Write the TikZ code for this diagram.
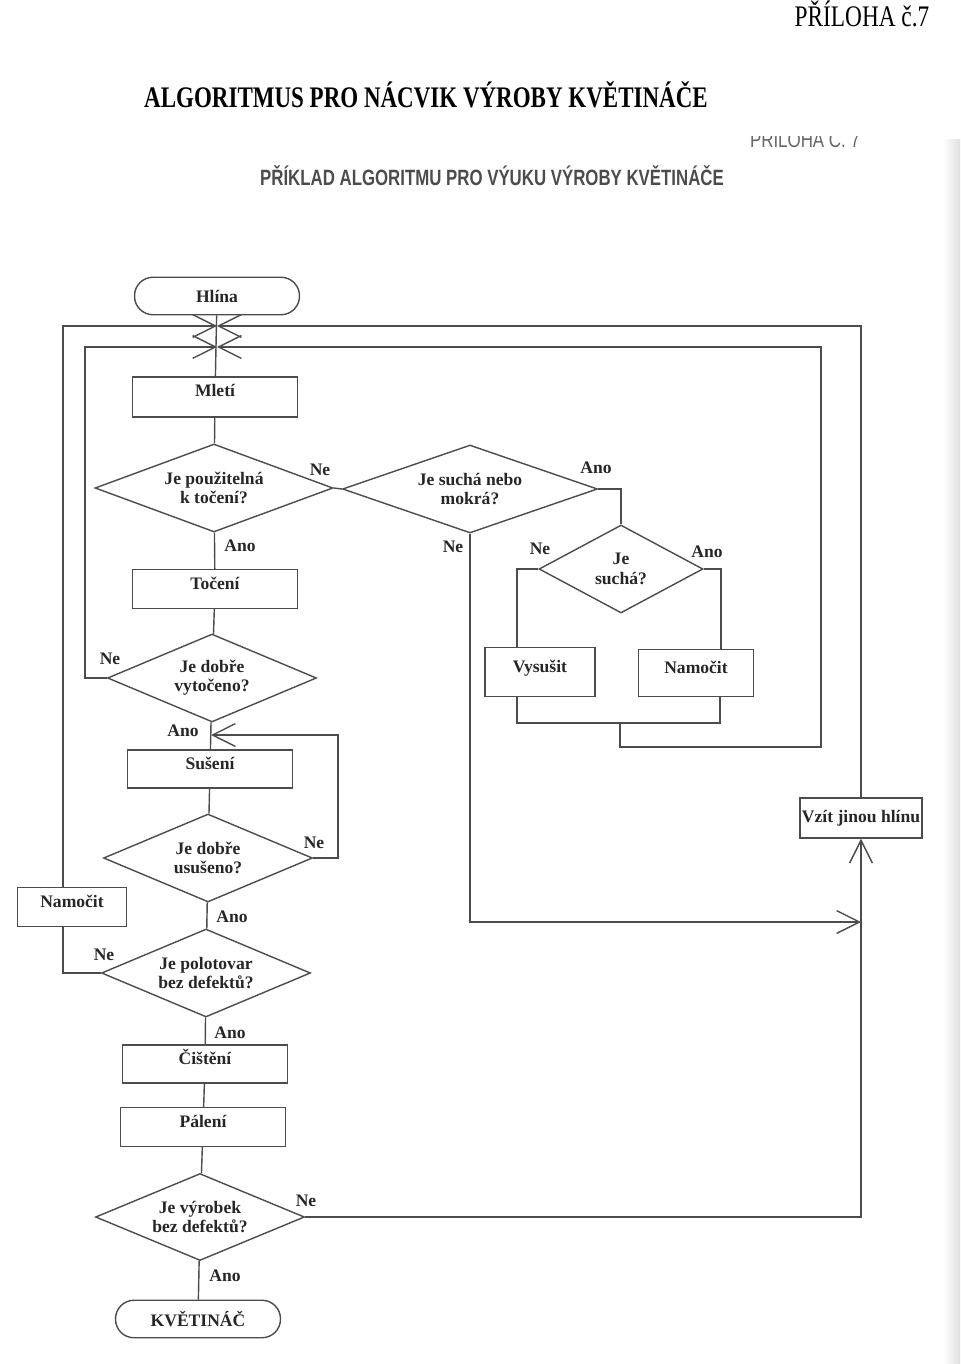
\documentclass[tikz,border=0pt]{standalone}
\usepackage{fontspec}
\setmainfont{Liberation Serif}
\newfontfamily\scanfont{Liberation Sans}
\usepackage{tikz}
\usetikzlibrary{arrows.meta,calc,positioning,shapes.geometric}
\tikzset{
    myline/.style={line width=0.8pt,draw=black!70},
    myarrow/.style={-{Straight Barb[length=13pt,width=13pt]}},
    mybox/.style={rectangle,draw=black!70,line width=0.8pt,inner sep=1pt,
        minimum width=3.3cm,minimum height=0.78cm,text=black!85,
        font=\fontsize{10}{11}\selectfont\bfseries},
    myproc/.style={mybox,text height=0.25cm,text depth=0.25cm},
    myterm/.style={mybox,rounded corners=0.37cm,minimum height=0.75cm},
    mydec/.style={diamond,aspect=2.6,draw=black!70,line width=0.8pt,inner sep=0pt,
        minimum width=4.18cm,minimum height=1.76cm,align=center,text=black!85,
        font=\fontsize{10}{11}\selectfont\bfseries},
    mylabel/.style={inner sep=0pt,text=black!85,font=\fontsize{10}{11}\selectfont\bfseries}
}

\begin{document}
\begin{tikzpicture}[x=0.02cm,y=-0.02cm]
  \useasboundingbox (0,0) rectangle (960,1364);
  % scanner edge
  \fill[left color=white,right color=black!12] (943,140) rectangle (960,1364);

  % headings
  \node[anchor=base,font=\fontsize{17}{20}\selectfont] (priloha) at (862,27) {\scalebox{0.78}[1]{PŘÍLOHA č.7}};
  \node[anchor=base,font=\fontsize{17}{20}\selectfont\bfseries] (title) at (426,108) {\scalebox{0.77}[1]{ALGORITMUS PRO NÁCVIK VÝROBY KVĚTINÁČE}};
  \begin{scope}
    \clip (700,137) rectangle (900,160);
    \node[anchor=base,text=black!60,font=\fontsize{12.5}{14}\scanfont] (cut) at (805,148) {\scalebox{0.77}[1]{PŘÍLOHA Č. 7}};
  \end{scope}
  \node[anchor=base,text=black!70,font=\fontsize{12.6}{14}\scanfont\bfseries] (sub) at (492,186) {\scalebox{0.76}[1]{PŘÍKLAD ALGORITMU PRO VÝUKU VÝROBY KVĚTINÁČE}};

  % main column
  \node[myterm] (hlina) at (217,296) {Hlína};
  \node[myproc,minimum height=0.8cm] (mleti) at (215,397) {Mletí};
  \node[mydec,minimum width=4.76cm] (d1) at (214,488) {Je použitelná\\k točení?};
  \node[myproc] (toceni) at (215,589) {Točení};
  \node[mydec] (d4) at (212,678) {Je dobře\\vytočeno?};
  \node[myproc,minimum height=0.76cm] (suseni) at (210,769) {Sušení};
  \node[mydec] (d5) at (208,858) {Je dobře\\usušeno?};
  \node[mydec] (d6) at (206,973) {Je polotovar\\bez defektů?};
  \node[myproc,minimum height=0.76cm] (cisteni) at (205,1064) {Čištění};
  \node[myproc] (paleni) at (203,1127) {Pálení};
  \node[mydec,minimum height=1.74cm] (d7) at (200,1217) {Je výrobek\\bez defektů?};
  \node[myterm] (kvetinac) at (198,1319) {KVĚTINÁČ};

  % side branches
  \node[mydec,minimum width=5.1cm] (d2) at (470,489) {Je suchá nebo\\mokrá?};
  \node[mydec,minimum width=3.28cm] (d3) at (621,569) {Je\\suchá?};
  \node[myproc,minimum width=2.2cm,minimum height=0.98cm] (vysusit) at (540,672) {Vysušit};
  \node[myproc,minimum width=2.3cm,minimum height=0.94cm] (namocit) at (696,673) {Namočit};
  \node[myproc,minimum width=2.18cm] (namocit2) at (72,907) {Namočit};
  \node[mybox,minimum width=2.44cm,minimum height=0.8cm] (vzit) at (861,818) {Vzít jinou hlínu};

  \coordinate (xo) at (217,326);
  \coordinate (xi) at (217,347);
  \coordinate (il) at (85,347);
  \coordinate (jn) at (861,922);
  \coordinate (sj) at (211,735);
  \coordinate (rl) at (338,735);
  \coordinate (m1) at (620,723);
  \coordinate (m2) at (821,747);

  \foreach \a/\b in {hlina/mleti,mleti/d1,d1/toceni,toceni/d4,d4/suseni,suseni/d5,
                     d5/d6,d6/cisteni,cisteni/paleni,paleni/d7,d7/kvetinac}{
    \draw[myline] (\a) -- (\b);
  }
  \draw[myline] (d1.east) -- (d2.west);
  \draw[myline] (d2.east) -| (d3.north);
  \draw[myline] (d3.west) -| ($(vysusit.north)+(-23,0)$);
  \draw[myline] (d3.east) -| ($(namocit.north)+(25,0)$);
  \draw[myline] ($(vysusit.south)+(-23,0)$) |- (m1) -| ($(namocit.south)+(24,0)$);
  \draw[myline,myarrow] (m1) |- (m2) |- (xi);
  \draw[myline,myarrow] (d4.west) -| (il) -- (xi);
  \draw[myline,myarrow] (d5.east) -| (rl) -- (sj);
  \draw[myline] (d6.west) -| ($(namocit2.south)+(-9,0)$);
  \draw[myline,myarrow] ($(namocit2.north)+(-9,0)$) |- (xo);
  \draw[myline,myarrow] (d2.south) |- (jn);
  \draw[myline,myarrow] (d7.east) -| (vzit.south);
  \draw[myline,myarrow] (vzit.north) |- (xo);

  \foreach \x/\y/\t [count=\i] in {320/470/Ne,240/546/Ano,596/468/Ano,453/547/Ne,
      540/549/Ne,707/552/Ano,110/659/Ne,183/731/Ano,314/843/Ne,232/917/Ano,
      104/955/Ne,230/1033/Ano,306/1201/Ne,225/1276/Ano}{
    \node[mylabel] (lab\i) at (\x,\y) {\t};
  }
\end{tikzpicture}
\end{document}
